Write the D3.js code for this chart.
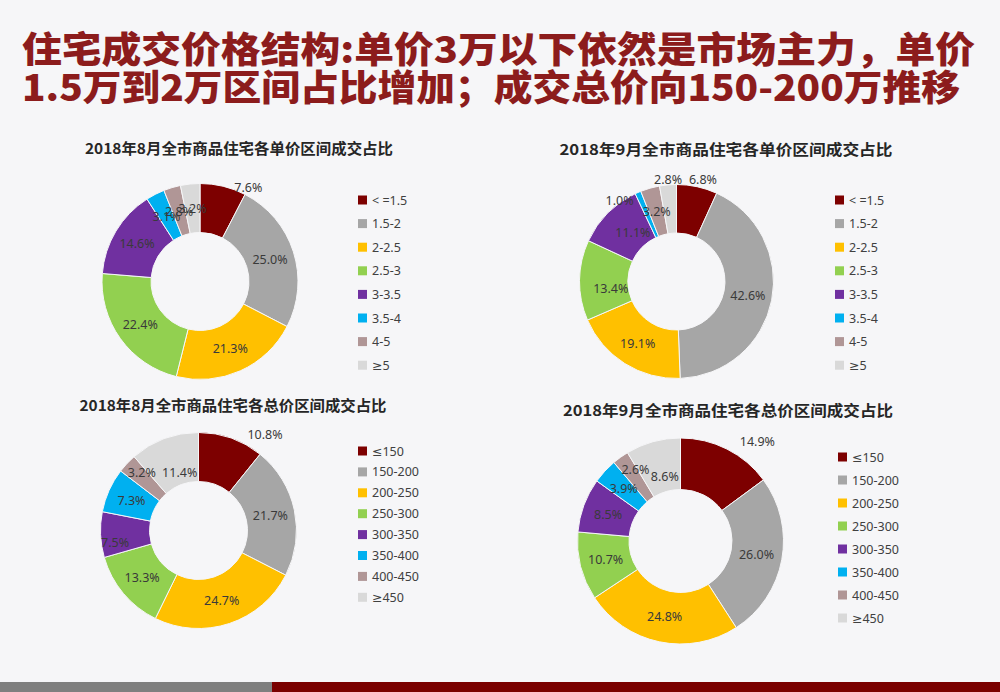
<!DOCTYPE html>
<html>
<head>
<meta charset="utf-8">
<script src="https://cdn.jsdelivr.net/npm/d3@7"></script>
<style>
  body { margin:0; background:#f6f6f8; }
  svg { display:block; font-family:"Noto Sans CJK SC","Noto Sans",sans-serif; }
  .num { font-family:"Noto Sans","DejaVu Sans",sans-serif; }
</style>
</head>
<body>
<script>
// 區間分類
const unitBands = ['< =1.5', '1.5-2', '2-2.5', '2.5-3', '3-3.5', '3.5-4', '4-5', '≥5'];
const totalBands = ['≤150', '150-200', '200-250', '250-300', '300-350', '350-400', '400-450', '≥450'];

// 占比數值 (%)
const unitAug = [7.6, 25.0, 21.3, 22.4, 14.6, 3.1, 2.8, 3.2];
const unitSep = [6.8, 42.6, 19.1, 13.4, 11.1, 1.0, 3.2, 2.8];
const totalAug = [10.8, 21.7, 24.7, 13.3, 7.5, 7.3, 3.2, 11.4];
const totalSep = [14.9, 26.0, 24.8, 10.7, 8.5, 3.9, 2.6, 8.6];

const chartTitles = [
    '2018年8月全市商品住宅各单价区间成交占比',
    '2018年9月全市商品住宅各单价区间成交占比',
    '2018年8月全市商品住宅各总价区间成交占比',
    '2018年9月全市商品住宅各总价区间成交占比'
];

const headLines = [
    '住宅成交价格结构:单价3万以下依然是市场主力，单价',
    '1.5万到2万区间占比增加；成交总价向150-200万推移'
];

const palette = ['#7d0000', '#a6a6a6', '#ffc000', '#92d050', '#7030a0', '#00b0f0', '#b09696', '#d9d9d9'];

render();

function render() {
    const svgWid = 1000;
    const svgHt = 692;
    const svg = d3.select('body').append('svg').attr('width', svgWid).attr('height', svgHt);

    // big title
    const headG = svg.append('g');
    headG.selectAll('text').data(headLines).enter()
        .append('text')
        .text(d => d)
        .attr('x', 22)
        .attr('y', (d, i) => 47 + i * 38)
        .attr('dominant-baseline', 'central')
        .attr('font-size', '36px')
        .attr('font-weight', 900)
        .attr('fill', '#8c1c1c')
        .attr('textLength', (d, i) => i === 0 ? 953 : 938)
        .attr('lengthAdjust', 'spacingAndGlyphs');

    // layout of the 4 donuts
    const layouts = [
        {title: chartTitles[0], tx: 239, ty: 147, tw: 308, bands: unitBands, values: unitAug,
         cx: 200, cy: 281.5, r: 98, lx: 358, ly: 200, step: 23.6,
         nudge: {0: [31, -23]}},
        {title: chartTitles[1], tx: 726, ty: 148, tw: 333, bands: unitBands, values: unitSep,
         cx: 676.5, cy: 281.5, r: 97, lx: 835, ly: 200, step: 23.6,
         nudge: {0: [11, -31], 3: [7, 8], 4: [8, 2], 5: [-28, -14], 7: [-2, -30]}},
        {title: chartTitles[2], tx: 233, ty: 404, tw: 307, bands: totalBands, values: totalAug,
         cx: 198.5, cy: 530.5, r: 98, lx: 358, ly: 451, step: 20.9,
         nudge: {0: [42, -27], 4: [-10, 9], 6: [-3, -8], 7: [7, 11]}},
        {title: chartTitles[3], tx: 728, ty: 409, tw: 330, bands: totalBands, values: totalSep,
         cx: 680.5, cy: 541, r: 103, lx: 838, ly: 457, step: 23,
         nudge: {0: [42, -31], 6: [0, -9], 7: [5, 10]}}
    ];

    layouts.forEach(drawDonut);

    function drawDonut(c) {
        const color = d3.scaleOrdinal().domain(c.bands).range(palette);
        const pie = d3.pie().sort(null).value(d => d.v);
        const arc = d3.arc().innerRadius(c.r * 0.5).outerRadius(c.r);
        const rows = c.bands.map((b, i) => ({band: b, v: c.values[i], i: i}));

        svg.append('text').text(c.title)
            .attr('x', c.tx).attr('y', c.ty)
            .attr('text-anchor', 'middle').attr('dominant-baseline', 'central')
            .attr('font-size', '15px').attr('font-weight', 'bold').attr('fill', '#262626')
            .attr('textLength', c.tw).attr('lengthAdjust', 'spacingAndGlyphs');

        const g = svg.append('g').attr('transform', `translate(${c.cx},${c.cy})`);
        const slices = pie(rows);

        g.selectAll('path').data(slices).enter()
            .append('path')
            .attr('d', arc)
            .attr('fill', d => color(d.data.band))
            .attr('stroke', '#f6f6f8')
            .attr('stroke-width', 1);

        g.selectAll('text').data(slices).enter()
            .append('text')
            .attr('class', 'num')
            .text(d => d.data.v.toFixed(1) + '%')
            .attr('transform', d => {
                const p = arc.centroid(d);
                const n = c.nudge[d.data.i] || [0, 0];
                return `translate(${p[0] + n[0]},${p[1] + n[1]})`;
            })
            .attr('text-anchor', 'middle')
            .attr('dominant-baseline', 'central')
            .attr('font-size', '12.5px')
            .attr('fill', '#3a3a3a');

        // legend
        const y = d3.scalePoint().domain(c.bands).range([c.ly, c.ly + c.step * (c.bands.length - 1)]);
        const lg = svg.append('g');
        lg.selectAll('rect').data(c.bands).enter()
            .append('rect')
            .attr('x', c.lx).attr('y', d => y(d) - 4.5)
            .attr('width', 9).attr('height', 9)
            .attr('fill', d => color(d));
        lg.selectAll('text').data(c.bands).enter()
            .append('text')
            .attr('class', 'num')
            .text(d => d)
            .attr('x', c.lx + 14).attr('y', d => y(d))
            .attr('dominant-baseline', 'central')
            .attr('font-size', '12.5px')
            .attr('fill', '#404040');
    }

    // bottom bars
    svg.append('rect').attr('x', 0).attr('y', 682).attr('width', 272).attr('height', 10).attr('fill', '#7f7f7f');
    svg.append('rect').attr('x', 272).attr('y', 682).attr('width', 728).attr('height', 10).attr('fill', '#7a0000');
}
</script>
</body>
</html>
